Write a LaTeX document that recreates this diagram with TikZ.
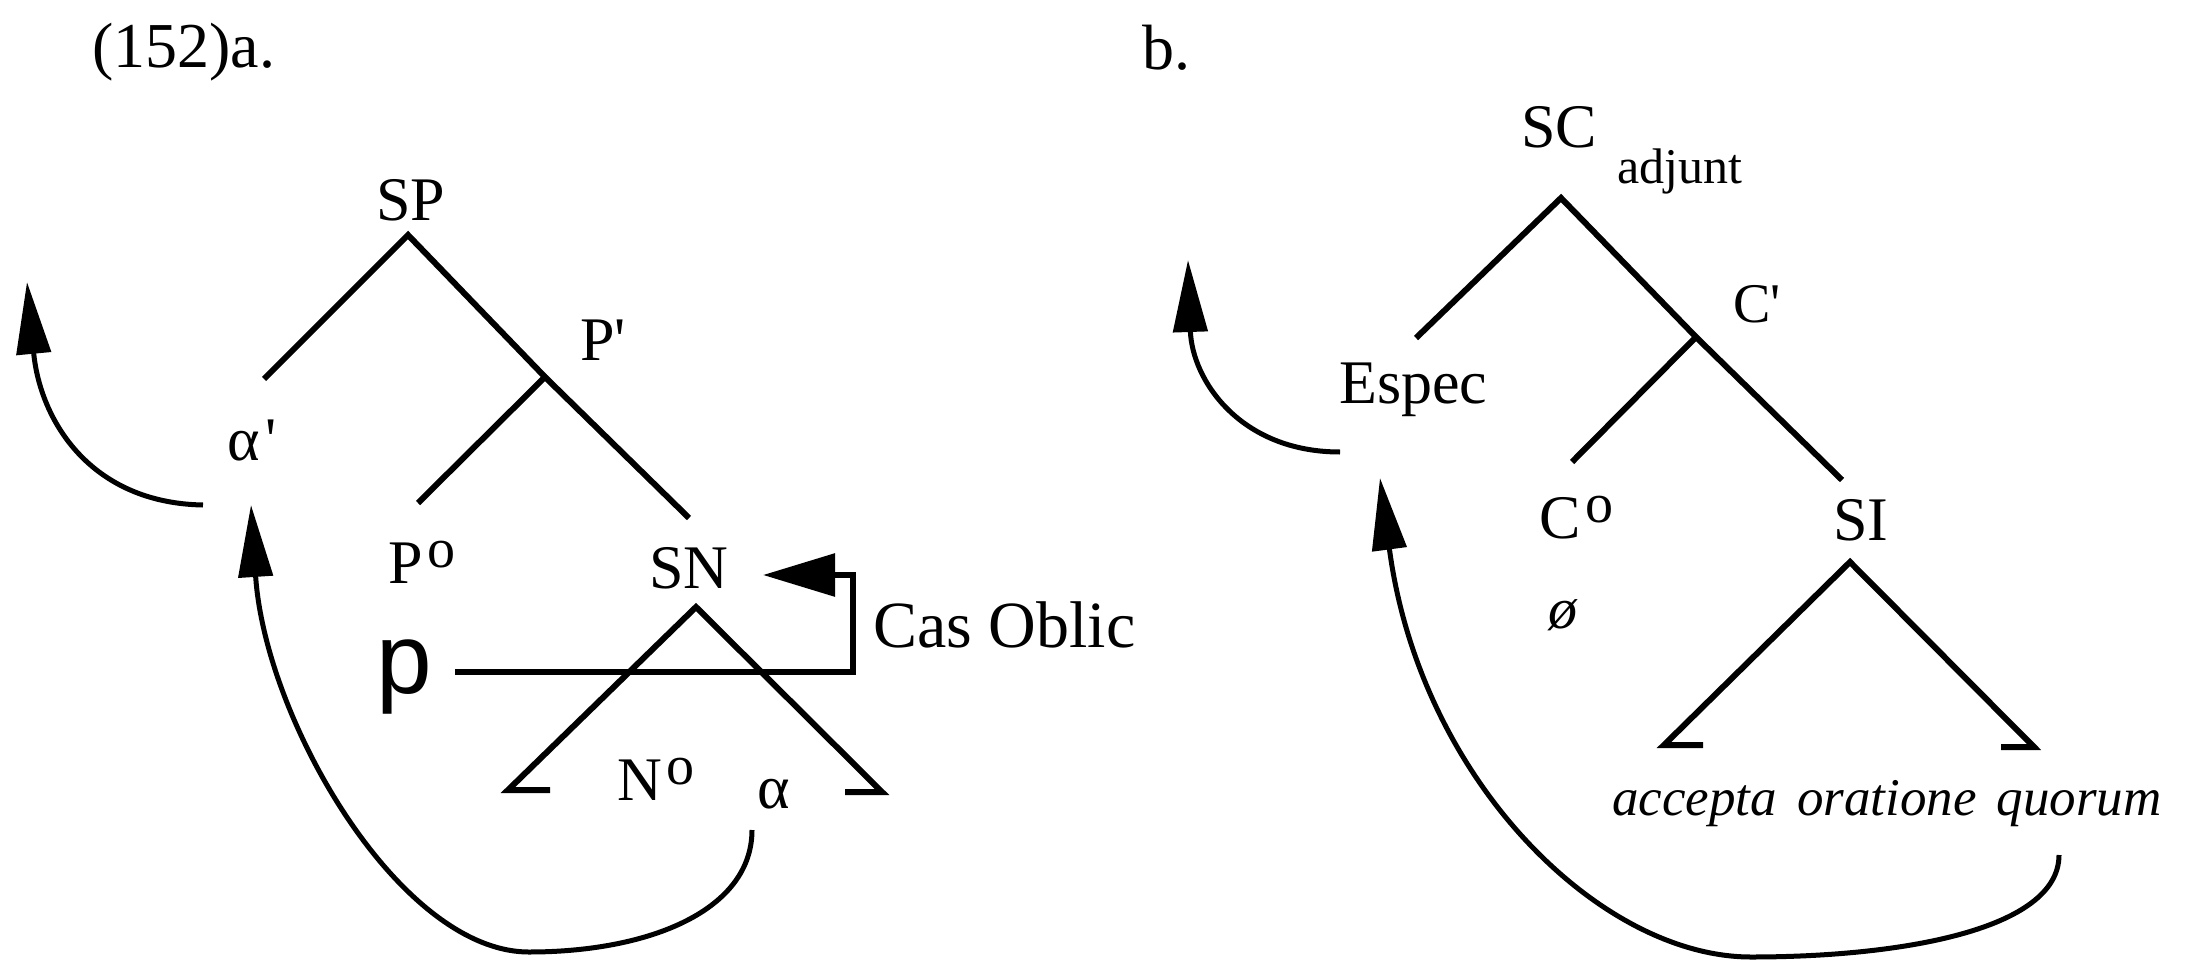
\documentclass[tikz,border=0pt]{standalone}
\usepackage{fontspec}
\setmainfont{Liberation Serif}
\newfontfamily\psans{Liberation Sans}
\usetikzlibrary{arrows.meta}
\newcommand{\mysupo}{\hspace{5pt}\raisebox{16pt}{\fontsize{56}{56}\selectfont o}}
\newcommand{\myprime}{\textquotesingle}
\begin{document}
\begin{tikzpicture}[x=1pt,y=-1pt,
  lbl/.style={inner sep=0pt, font=\fontsize{62}{62}\selectfont},
  branch/.style={line width=6pt, line join=miter},
  mv/.style={line width=5pt, -{Triangle[length=72pt,width=34pt]}},
  casarrow/.style={line width=6pt, line join=miter, -{Triangle[length=72pt,width=42pt]}}]
\useasboundingbox (0,0) rectangle (2186,963);

% ---------- labels a ----------
\node[lbl, anchor=base west, font=\fontsize{64}{64}\selectfont] (num) at (92,68) {(152)a.};
\node[lbl, anchor=base] (SP) at (411,220) {SP};
\node[lbl, anchor=base west] (Pbar) at (580,360) {P\myprime};
\node[lbl, anchor=base west] (alphap) at (227,460) {α\hspace{6pt}\myprime};
\node[lbl, anchor=base west] (P0) at (388,583) {P\mysupo};
\node[lbl, anchor=base] (SN) at (689,588) {SN};
\node[lbl, anchor=base west, font=\psans\fontsize{100}{100}\selectfont] (p) at (376,693) {p};
\node[lbl, anchor=base west, font=\fontsize{66}{66}\selectfont] (cas) at (873,647) {Cas Oblic};
\node[lbl, anchor=base west] (N0) at (617,800) {N\mysupo};
\node[lbl, anchor=base west] (alpha) at (757,808) {α};

% ---------- labels b ----------
\node[lbl, anchor=base west, font=\fontsize{64}{64}\selectfont] (bl) at (1142,70) {b.};
\node[lbl, anchor=base west] (SC) at (1521,147) {SC};
\node[lbl, anchor=base west, font=\fontsize{50}{50}\selectfont] (adj) at (1617,183) {adjunt};
\node[lbl, anchor=base west, font=\fontsize{56}{56}\selectfont] (Cbar) at (1733,322) {C\myprime};
\node[lbl, anchor=base west] (Espec) at (1339,403) {Espec};
\node[lbl, anchor=base west] (C0) at (1539,538) {C\mysupo};
\node[lbl, anchor=base] (SI) at (1861,540) {SI};
\node[lbl, anchor=base west, font=\itshape\fontsize{58}{58}\selectfont] (null) at (1548,628) {ø};
\node[lbl, anchor=base west, font=\itshape\fontsize{53}{53}\selectfont] (words) at (1612,815) {accepta\hspace{20pt}oratione\hspace{20pt}quorum};

% ---------- coordinates a ----------
\coordinate (aTop) at (408,235);
\coordinate (aL) at (264,379);
\coordinate (aJ) at (545,377);
\coordinate (aJL) at (418,503);
\coordinate (aR) at (689,518);
\coordinate (tA) at (696,607);
\coordinate (tL) at (508,790);
\coordinate (tLf) at (550,790);
\coordinate (tR) at (882,792);
\coordinate (tRf) at (845,792);
\coordinate (c1) at (455,672);
\coordinate (c2) at (853,672);
\coordinate (c3) at (853,575);
\coordinate (c4) at (763,575);
\coordinate (m1s) at (203,505);
\coordinate (m1e) at (27,282);
\coordinate (m2s) at (752,830);
\coordinate (m2b) at (529,952);
\coordinate (m2e) at (251,505);

% ---------- coordinates b ----------
\coordinate (bTop) at (1561,198);
\coordinate (bL) at (1416,338);
\coordinate (bJ) at (1696,337);
\coordinate (bJL) at (1572,462);
\coordinate (bR) at (1842,480);
\coordinate (sA) at (1850,562);
\coordinate (sL) at (1664,745);
\coordinate (sLf) at (1703,745);
\coordinate (sR) at (2034,747);
\coordinate (sRf) at (2001,747);
\coordinate (n1s) at (1340,452);
\coordinate (n1e) at (1188,260);
\coordinate (n2s) at (2059,855);
\coordinate (n2b) at (1751,957);
\coordinate (n2e) at (1380,478);

% ---------- tree a ----------
\draw[branch] (aL) -- (aTop) -- (aJ) -- (aR);
\draw[branch] (aJ) -- (aJL);
\draw[branch] (tLf) -- (tL) -- (tA) -- (tR) -- (tRf);
\draw[casarrow] (c1) -- (c2) -- (c3) -- (c4);
\draw[mv] (m1s) .. controls (90,503) and (40,420) .. (m1e);
\draw[mv] (m2s) .. controls (752,910) and (650,952) .. (m2b)
      .. controls (400,952) and (265,720) .. (m2e);

% ---------- tree b ----------
\draw[branch] (bL) -- (bTop) -- (bJ) -- (bR);
\draw[branch] (bJ) -- (bJL);
\draw[branch] (sLf) -- (sL) -- (sA) -- (sR) -- (sRf);
\draw[mv] (n1s) .. controls (1240,452) and (1192,380) .. (n1e);
\draw[mv] (n2s) .. controls (2059,930) and (1900,957) .. (n2b)
      .. controls (1600,957) and (1420,780) .. (n2e);
\end{tikzpicture}
\end{document}
